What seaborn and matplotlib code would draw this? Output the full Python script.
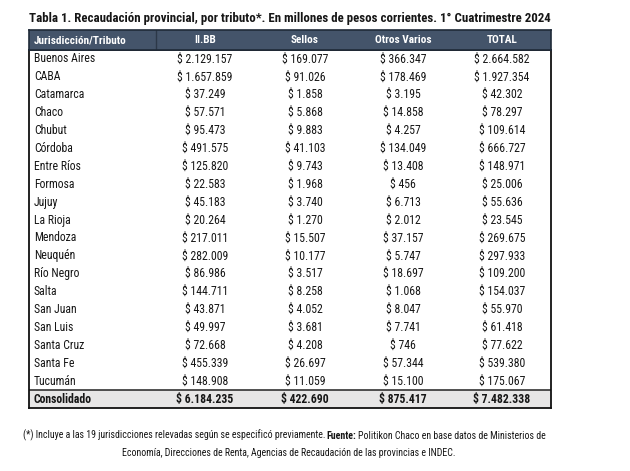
import matplotlib
matplotlib.use("Agg")
import matplotlib.pyplot as plt
import matplotlib.transforms as mtransforms
from matplotlib import font_manager
from matplotlib.colors import ListedColormap
import seaborn as sns
import numpy as np
import pandas as pd

# ---------------- data ----------------
title = ("Tabla 1. Recaudación provincial, por tributo*. En millones de pesos "
         "corrientes. 1° Cuatrimestre 2024")
headers = ["Jurisdicción/Tributo", "II.BB", "Sellos", "Otros Varios", "TOTAL"]
jurisdicciones = ["Buenos Aires", "CABA", "Catamarca", "Chaco", "Chubut", "Córdoba",
                  "Entre Ríos", "Formosa", "Jujuy", "La Rioja", "Mendoza", "Neuquén",
                  "Río Negro", "Salta", "San Juan", "San Luis", "Santa Cruz",
                  "Santa Fe", "Tucumán"]
iibb = [2129157, 1657859, 37249, 57571, 95473, 491575, 125820, 22583, 45183, 20264,
        217011, 282009, 86986, 144711, 43871, 49997, 72668, 455339, 148908]
sellos = [169077, 91026, 1858, 5868, 9883, 41103, 9743, 1968, 3740, 1270,
          15507, 10177, 3517, 8258, 4052, 3681, 4208, 26697, 11059]
otros = [366347, 178469, 3195, 14858, 4257, 134049, 13408, 456, 6713, 2012,
         37157, 5747, 18697, 1068, 8047, 7741, 746, 57344, 15100]
total = [2664582, 1927354, 42302, 78297, 109614, 666727, 148971, 25006, 55636, 23545,
         269675, 297933, 109200, 154037, 55970, 61418, 77622, 539380, 175067]
consolidado_label = "Consolidado"
consolidado = [6184235, 422690, 875417, 7482338]
foot_1a = "(*) Incluye a las 19 jurisdicciones relevadas según se especificó previamente."
foot_1b = "Fuente:"
foot_1c = "Politikon Chaco en base datos de Ministerios de"
foot_2 = "Economía, Direcciones de Renta, Agencias de Recaudación de las provincias e INDEC."

# ---------------- style ----------------
sns.set_theme(style="white")
avail = {f.name for f in font_manager.fontManager.ttflist}
font = "DejaVu Sans"
for cand in ["Liberation Sans Narrow", "Roboto Condensed", "Liberation Sans", "Roboto"]:
    if cand in avail:
        font = cand
        break
plt.rcParams["font.family"] = [font, "DejaVu Sans"]

HEADER_COLOR = "#44546A"
TOTAL_BG = "#E7E6E6"
TXT = "#161616"

W, H = 630, 471
fig = plt.figure(figsize=(W / 100, H / 100), dpi=100)
fig.patch.set_facecolor("white")
renderer = fig.canvas.get_renderer()


def fit(t, target):
    w = t.get_window_extent(renderer).width
    t.set_fontsize(t.get_fontsize() * target / w)
    return t.get_fontsize()


def fmt(v):
    return "$ " + f"{v:,}".replace(",", ".")


# overlay axes in pixel coordinates
ov = fig.add_axes([0, 0, 1, 1], zorder=5)
ov.set_xlim(0, W)
ov.set_ylim(H, 0)
ov.axis("off")
ov.patch.set_alpha(0)

# layout (pixels)
TL, TR = 29, 551
HT, HB = 30, 50
BB = 408
col_left = 34
col_centers = [205, 305, 403, 502]

# body table via seaborn heatmap (row backgrounds)
bg = pd.DataFrame({"bg": [0] * len(jurisdicciones) + [1]})
ax = fig.add_axes([TL / W, 1 - BB / H, (TR - TL) / W, (BB - HB) / H])
sns.heatmap(bg, cmap=ListedColormap(["#FFFFFF", TOTAL_BG]), vmin=0, vmax=1,
            cbar=False, xticklabels=False, yticklabels=False, ax=ax)
ax.set_xlabel("")
ax.set_ylabel("")
for s in ax.spines.values():
    s.set_visible(True)
    s.set_color("#111111")
    s.set_linewidth(1.3)
ax.axhline(len(jurisdicciones), color="#222222", lw=1.1)
trans = mtransforms.blended_transform_factory(ax.transAxes, ax.transData)


def xf(px):
    return (px - TL) / (TR - TL)


# measure font sizes
probe = ov.text(0, 0, "$ 2.129.157", fontsize=10)
body_fs = fit(probe, 55)
probe.remove()
probe = ov.text(0, 0, "Jurisdicción/Tributo", fontsize=10, fontweight="bold")
head_fs = fit(probe, 93)
probe.remove()

cols = [iibb, sellos, otros, total]
for i, name in enumerate(jurisdicciones):
    y = i + 0.5
    ax.text(xf(col_left), y, name, transform=trans, ha="left", va="center",
            fontsize=body_fs, color=TXT)
    for c, series in enumerate(cols):
        ax.text(xf(col_centers[c]), y, fmt(series[i]), transform=trans,
                ha="center", va="center", fontsize=body_fs, color=TXT)
y = len(jurisdicciones) + 0.5
ax.text(xf(col_left), y, consolidado_label, transform=trans, ha="left", va="center",
        fontsize=body_fs, color=TXT, fontweight="bold")
for c, v in enumerate(consolidado):
    ax.text(xf(col_centers[c]), y, fmt(v), transform=trans, ha="center",
            va="center", fontsize=body_fs, color=TXT, fontweight="bold")

# header
axh = fig.add_axes([TL / W, 1 - HB / H, (TR - TL) / W, (HB - HT) / H])
axh.set_facecolor(HEADER_COLOR)
axh.set_xticks([])
axh.set_yticks([])
for s in axh.spines.values():
    s.set_visible(True)
    s.set_color("#1f2a38")
    s.set_linewidth(1.2)
axh.axvline(xf(156), color="#2c3848", lw=1.0)
axh.text(xf(col_left), 0.5, headers[0], transform=axh.transAxes, ha="left",
         va="center", color="white", fontweight="bold", fontsize=head_fs)
for c in range(4):
    axh.text(xf(col_centers[c]), 0.5, headers[c + 1], transform=axh.transAxes,
             ha="center", va="center", color="white", fontweight="bold",
             fontsize=head_fs)

# title
t = ov.text(TL, 18.5, title, ha="left", va="center", fontweight="bold",
            fontsize=10, color=TXT)
fit(t, 523)

# footnote line 1 (mixed weights)
fs_probe = ov.text(0, 0, foot_1a + " " + foot_1b + " " + foot_1c, fontsize=8)
foot_fs = fit(fs_probe, 524)
fs_probe.remove()
x = 23
y1 = 435.7
parts = [(foot_1a, "normal", 1.2), (foot_1b, "bold", 1.8), (foot_1c, "normal", 0)]
for s, wgt, gap in parts:
    tt = ov.text(x, y1, s, ha="left", va="center", fontsize=foot_fs,
                 fontweight=wgt, color=TXT)
    x += tt.get_window_extent(renderer).width + gap
ov.text(289, 453, foot_2, ha="center", va="center", fontsize=foot_fs, color=TXT)

fig.savefig("out.png", dpi=100, facecolor="white")
